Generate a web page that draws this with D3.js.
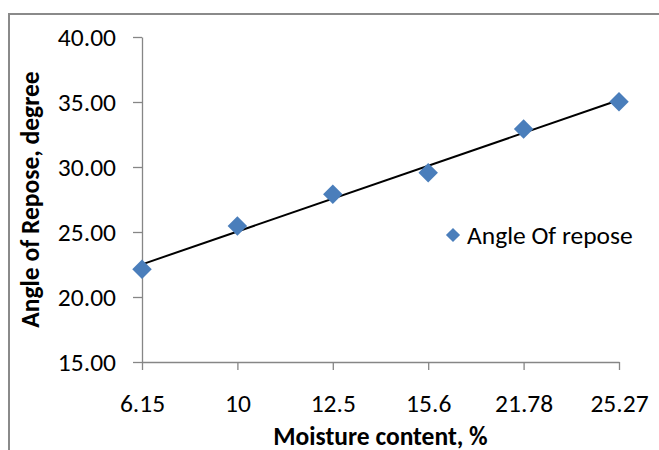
<!DOCTYPE html>
<html>
<head>
<meta charset="utf-8">
<script src="https://cdn.jsdelivr.net/npm/d3@7"></script>
<style>
  html, body { margin: 0; padding: 0; background: #fff; }
  text { font-family: Carlito, Calibri, Lato, sans-serif; fill: #000; }
</style>
</head>
<body>
<div class="chart"></div>
<script>
// Chart data
var moisture = ["6.15", "10", "12.5", "15.6", "21.78", "25.27"];
var angleOfRepose = [22.13, 25.46, 27.9, 29.56, 32.92, 35.02];
var yTicks = [15, 20, 25, 30, 35, 40];
var seriesName = "Angle Of repose";

var width = 659;
var height = 450;
var plot = {left: 142, right: 619, top: 37, bottom: 362};
var blue = "#4a7ebb";
var axisGrey = "#868686";
var labelSize = 25.5;
var titleSize = 25.5;

var x = d3.scalePoint()
    .domain(moisture)
    .range([plot.left, plot.right]);

var y = d3.scaleLinear()
    .domain([15, 40])
    .range([plot.bottom, plot.top]);

var svg = d3.select(".chart").append("svg")
    .attr("width", width)
    .attr("height", height);

svg.append("rect")
    .attr("width", width)
    .attr("height", height)
    .attr("fill", "#fff");

// chart frame (only top and left edges are visible in the crop)
svg.append("path")
    .attr("d", "M9,450V14H659")
    .attr("fill", "none")
    .attr("stroke", "#8a8a8a")
    .attr("stroke-width", 2);

// Axes
var yAxis = svg.append("g")
    .attr("transform", "translate(" + plot.left + ",0)")
    .call(d3.axisLeft(y)
        .tickValues(yTicks)
        .tickFormat(d3.format(".2f"))
        .tickSize(9)
        .tickSizeOuter(0)
        .tickPadding(17));

var xAxis = svg.append("g")
    .attr("transform", "translate(0," + plot.bottom + ")")
    .call(d3.axisBottom(x)
        .tickSize(8)
        .tickSizeOuter(0)
        .tickPadding(24));

[yAxis, xAxis].forEach(function(ax) {
    ax.select(".domain").attr("stroke", axisGrey).attr("stroke-width", 1.3);
    ax.selectAll(".tick line").attr("stroke", axisGrey).attr("stroke-width", 1.3);
    ax.selectAll(".tick text")
        .attr("font-family", "Carlito, Calibri, Lato, sans-serif")
        .attr("font-size", labelSize)
        .attr("fill", "#000");
});

// Linear trendline (least squares over category index)
var n = angleOfRepose.length;
var idx = d3.range(1, n + 1);
var mx = d3.mean(idx), my = d3.mean(angleOfRepose);
var sxy = d3.sum(idx, function(i, k) { return (i - mx) * (angleOfRepose[k] - my); });
var sxx = d3.sum(idx, function(i) { return (i - mx) * (i - mx); });
var slope = sxy / sxx;
var intercept = my - slope * mx;

svg.append("line")
    .attr("x1", x(moisture[0]))
    .attr("y1", y(intercept + slope * 1))
    .attr("x2", x(moisture[n - 1]))
    .attr("y2", y(intercept + slope * n))
    .attr("stroke", "#000")
    .attr("stroke-width", 2);

// Markers
var diamond = d3.symbol().type(d3.symbolSquare).size(190);

svg.selectAll(".point")
    .data(angleOfRepose)
    .enter().append("path")
        .attr("class", "point")
        .attr("d", diamond)
        .attr("fill", blue)
        .attr("transform", function(d, i) {
            return "translate(" + x(moisture[i]) + "," + y(d) + ") rotate(45)";
        });

// Legend
var legend = svg.append("g")
    .attr("transform", "translate(453,235)");

legend.append("path")
    .attr("d", d3.symbol().type(d3.symbolSquare).size(100))
    .attr("transform", "rotate(45)")
    .attr("fill", blue);

legend.append("text")
    .attr("x", 14)
    .attr("y", 8.5)
    .attr("font-size", labelSize)
    .text(seriesName);

// Axis titles
svg.append("text")
    .attr("x", (plot.left + plot.right) / 2)
    .attr("y", 445)
    .attr("text-anchor", "middle")
    .attr("font-size", titleSize)
    .attr("font-weight", "bold")
    .text("Moisture content, %");

svg.append("text")
    .attr("transform", "translate(39," + (plot.top + plot.bottom) / 2 + ") rotate(-90)")
    .attr("text-anchor", "middle")
    .attr("font-size", titleSize)
    .attr("font-weight", "bold")
    .text("Angle of Repose, degree");
</script>
</body>
</html>
